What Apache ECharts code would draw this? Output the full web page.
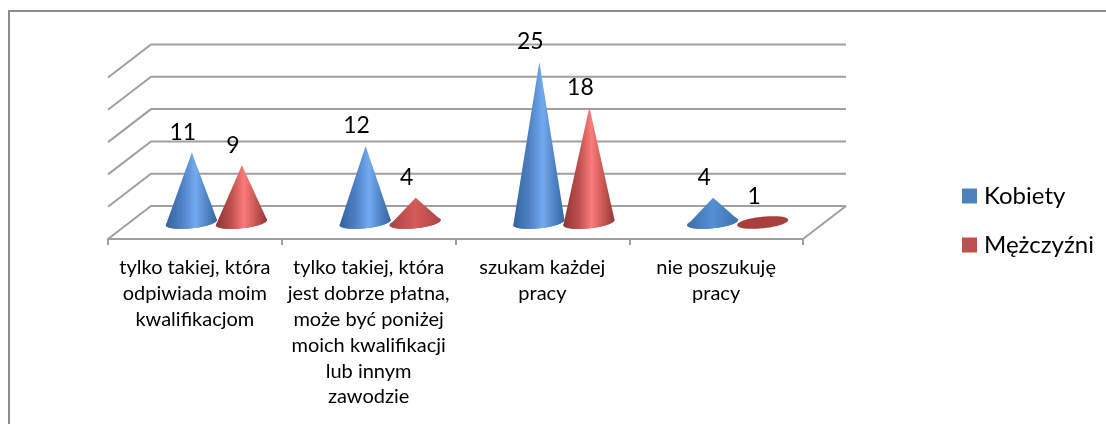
<!DOCTYPE html>
<html><head><meta charset="utf-8">
<style>html,body{margin:0;padding:0;background:#fff}#c{width:1106px;height:424px}</style>
<script src="https://cdn.jsdelivr.net/npm/echarts@6/dist/echarts.min.js"></script>
</head><body><div id="c"></div>
<script>
var categories = ["tylko takiej, która\nodpiwiada moim\nkwalifikacjom","tylko takiej, która\njest dobrze płatna,\nmoże być poniżej\nmoich kwalifikacji\nlub innym\nzawodzie","szukam każdej\npracy","nie poszukuję\npracy"];
var kobiety = [11,12,25,4];
var mezczyzni = [9,4,18,1];
var gridTicks = [0,5,10,15,20,25];
var FONT = 'Lato';
var DEPTH_X = 43, DEPTH_Y = 33;
var chart = echarts.init(document.getElementById('c'), null, {renderer:'canvas'});

function ellipsePts(cx,cy,rx,ry,th,a0,a1,n){
  var p=[],c=Math.cos(th),s=Math.sin(th);
  for(var i=0;i<=n;i++){
    var t=a0+(a1-a0)*i/n;
    p.push([cx+rx*Math.cos(t)*c-ry*Math.sin(t)*s, cy+rx*Math.cos(t)*s+ry*Math.sin(t)*c]);
  }
  return p;
}
function grad(stops){
  return new echarts.graphic.LinearGradient(0,0,1,0,stops.map(function(s){return {offset:s[0],color:s[1]};}));
}
function coneSeries(name,data,dirn,base,stops,lowStops,edge){
  return {
    type:'custom', name:name, z:3, itemStyle:{color:base},
    encode:{x:0,y:1}, clip:false,
    data:data.map(function(v,i){return [i,v];}),
    renderItem:function(params,api){
      var i=api.value(0), v=api.value(1);
      var band=api.size([1,0])[0];
      var b=api.coord([i,0]), t=api.coord([i,v]);
      var cx=b[0]+DEPTH_X/2+dirn*band*0.144, cy=b[1]-DEPTH_Y/2;
      var tipY=t[1]-DEPTH_Y/2+1;
      var rx=band*0.148, ry=5.8, th=-6*Math.PI/180;
      var ch=[{type:'polygon',shape:{points:ellipsePts(cx,cy,rx,ry,th,0,Math.PI*2,48)},style:{fill:edge}}];
      if(cy-tipY>2*ry){
        var pts=[[cx+0.5,tipY]].concat(ellipsePts(cx,cy,rx,ry,th,0,Math.PI,32));
        ch.push({type:'polygon',shape:{points:pts},style:{fill:grad(cy-tipY<40?lowStops:stops)}});
      }
      ch.push({type:'text',style:{text:String(v),x:cx-8.5,y:tipY-20,align:'center',verticalAlign:'middle',font:'23px '+FONT,fill:'#000'},z2:10});
      return {type:'group',children:ch};
    }
  };
}
var option = {
  animation:false, backgroundColor:'#fff',
  grid:{left:108,right:303,top:77.5,bottom:185,containLabel:false},
  xAxis:{type:'category',data:categories,boundaryGap:true,
    axisLine:{show:true,lineStyle:{color:'#a0a0a0',width:2}},
    axisTick:{show:true,alignWithLabel:false,length:6,lineStyle:{color:'#a0a0a0',width:2}},
    axisLabel:{interval:0,margin:16,color:'#000',fontFamily:FONT,fontSize:20,lineHeight:25.8,align:'center',verticalAlign:'top'}},
  yAxis:{type:'value',min:0,max:25,interval:5,show:false,splitLine:{show:false}},
  legend:{show:true,orient:'vertical',left:962,top:184,padding:0,itemWidth:15,itemHeight:15,itemGap:25,icon:'rect',
    data:['Kobiety','Mężczyźni'],
    textStyle:{fontFamily:FONT,fontSize:24,color:'#000',padding:[0,0,0,2]}},
  graphic:[
    {type:'line',silent:true,shape:{x1:9,y1:11,x2:1106,y2:11},style:{stroke:'#8c8c8c',lineWidth:2}},
    {type:'line',silent:true,shape:{x1:9,y1:10,x2:9,y2:424},style:{stroke:'#8c8c8c',lineWidth:2}}
  ],
  series:[
    {type:'custom',name:'siatka',z:1,silent:true,clip:false,encode:{y:0},legendHoverLink:false,
      data:gridTicks.map(function(v){return [v];}),
      renderItem:function(params,api){
        var v=api.value(0), n=categories.length;
        var a=api.coord([0,v]), band=api.size([1,0])[0];
        var x0=a[0]-band/2, x1=x0+band*n, y=a[1];
        var ch=[{type:'polyline',shape:{points:[[x0,y],[x0+DEPTH_X,y-DEPTH_Y],[x1+DEPTH_X,y-DEPTH_Y]]},style:{fill:'none',stroke:'#a0a0a0',lineWidth:2}}];
        if(v===0) ch.push({type:'line',shape:{x1:x1,y1:y,x2:x1+DEPTH_X,y2:y-DEPTH_Y},style:{stroke:'#a0a0a0',lineWidth:2}});
        return {type:'group',children:ch};
      }},
    coneSeries('Kobiety',kobiety,-1,'#4f81bd',[[0,'#34639c'],[0.3,'#4a80c2'],[0.58,'#74aaee'],[0.8,'#4f85c6'],[1,'#36659e']],[[0,'#3c6ea8'],[0.5,'#5590d4'],[1,'#3f72ad']],'#4a7cb8'),
    coneSeries('Mężczyźni',mezczyzni,1,'#c0504d',[[0,'#8e3533'],[0.3,'#bd4f4c'],[0.55,'#fb7b7b'],[0.8,'#c45451'],[1,'#933735']],[[0,'#a84240'],[0.5,'#d45c5a'],[1,'#ad4543']],'#a83f3d')
  ]
};
chart.setOption(option);
</script></body></html>
